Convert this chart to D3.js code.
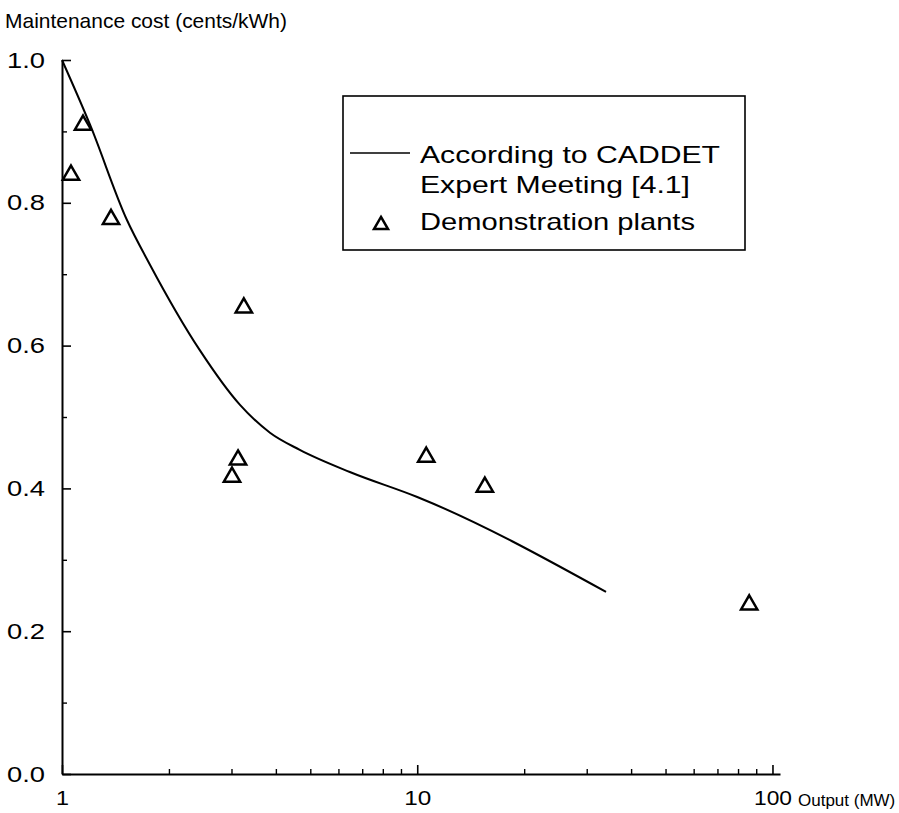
<!DOCTYPE html>
<html>
<head>
<meta charset="utf-8">
<script src="https://cdn.jsdelivr.net/npm/d3@7"></script>
<style>
  html, body { margin: 0; padding: 0; background: #fff; }
  svg { display: block; }
  text { font-family: "Liberation Sans", Arial, Helvetica, sans-serif; fill: #000; }
</style>
</head>
<body>
<svg id="chart" width="899" height="813"></svg>
<script>
// ---- data ----
const curveOutput = [1.0, 1.2, 1.52, 1.77, 2.44, 3.17, 3.85, 4.67, 6.46, 10, 34];
const curveCost   = [1.0, 0.909, 0.777, 0.713, 0.594, 0.517, 0.478, 0.454, 0.423, 0.388, 0.255];
const plantOutput = [1.06, 1.146, 1.374, 3.25, 3.13, 3.01, 10.6, 15.5, 86];
const plantCost   = [0.839, 0.909, 0.777, 0.653, 0.440, 0.416, 0.444, 0.402, 0.237];
const xTickValues = [1, 10, 100];
const xTickLabels = ["1", "10", "100"];
const xMinorTicks = [2,3,4,5,6,7,8,9,20,30,40,50,60,70,80,90];
const yTickValues = [0, 0.2, 0.4, 0.6, 0.8, 1.0];
const yTickLabels = ["0.0", "0.2", "0.4", "0.6", "0.8", "1.0"];
const yMinorTicks = [0.1, 0.3, 0.5, 0.7, 0.9];
const yTitle = "Maintenance cost (cents/kWh)";
const xTitle = "Output (MW)";
const legendLine = ["According to CADDET", "Expert Meeting [4.1]"];
const legendMarker = "Demonstration plants";

// ---- drawing ----
const svg = d3.select("#chart");
const x = d3.scaleLog().domain([1, 105]).range([62, 780]);
const y = d3.scaleLinear().domain([0, 1]).range([774, 60]);

const g = svg.append("g");

// x axis (ticks inside, pointing up)
const xAxis = d3.axisBottom(x).tickValues(xTickValues).tickFormat((d, i) => xTickLabels[i])
  .tickSizeInner(-9).tickSizeOuter(0).tickPadding(16);
const gx = g.append("g").attr("transform", `translate(0,${y(0)})`).call(xAxis);
gx.select(".domain").attr("stroke", "#000").attr("stroke-width", 2);
gx.selectAll(".tick line").attr("stroke", "#000").attr("stroke-width", 1.6);
gx.selectAll(".tick text").attr("font-size", 21).attr("font-family", "Liberation Sans, Arial, sans-serif")
  .attr("lengthAdjust", "spacingAndGlyphs").attr("textLength", (d, i) => [13, 27, 38][i]);
const xMinor = d3.axisBottom(x).tickValues(xMinorTicks).tickFormat("").tickSizeInner(-5).tickSizeOuter(0);
const gxm = g.append("g").attr("transform", `translate(0,${y(0)})`).call(xMinor);
gxm.select(".domain").remove();
gxm.selectAll(".tick line").attr("stroke", "#000").attr("stroke-width", 1.4);

// y axis (ticks inside, pointing right)
const yAxis = d3.axisLeft(y).tickValues(yTickValues).tickFormat((d, i) => yTickLabels[i])
  .tickSizeInner(-9).tickSizeOuter(0).tickPadding(17);
const gy = g.append("g").attr("transform", `translate(${x(1)},0)`).call(yAxis);
gy.select(".domain").attr("stroke", "#000").attr("stroke-width", 2);
gy.selectAll(".tick line").attr("stroke", "#000").attr("stroke-width", 1.6);
gy.selectAll(".tick text").attr("font-size", 22).attr("font-family", "Liberation Sans, Arial, sans-serif")
  .attr("lengthAdjust", "spacingAndGlyphs").attr("textLength", 38);
const yMinor = d3.axisLeft(y).tickValues(yMinorTicks).tickFormat("").tickSizeInner(-5).tickSizeOuter(0);
const gym = g.append("g").attr("transform", `translate(${x(1)},0)`).call(yMinor);
gym.select(".domain").remove();
gym.selectAll(".tick line").attr("stroke", "#000").attr("stroke-width", 1.4);

// titles
g.append("text").attr("x", 5).attr("y", 28).attr("font-size", 21)
  .attr("textLength", 282).attr("lengthAdjust", "spacingAndGlyphs").text(yTitle);
g.append("text").attr("x", 798).attr("y", 806).attr("font-size", 17).text(xTitle);

// curve
const curveData = curveOutput.map((d, i) => [d, curveCost[i]]);
const line = d3.line().x(d => x(d[0])).y(d => y(d[1])).curve(d3.curveMonotoneX);
g.append("path").datum(curveData).attr("d", line)
  .attr("fill", "none").attr("stroke", "#000").attr("stroke-width", 2);

// plants
const tri = d3.symbol().type(d3.symbolTriangle).size(115);
g.selectAll(".plant").data(plantOutput.map((d, i) => [d, plantCost[i]])).enter()
  .append("path").attr("class", "plant")
  .attr("transform", d => `translate(${x(d[0])},${y(d[1])})`)
  .attr("d", tri).attr("fill", "none").attr("stroke", "#000").attr("stroke-width", 2.5);

// legend
const lg = g.append("g");
lg.append("rect").attr("x", 343).attr("y", 96).attr("width", 402).attr("height", 154)
  .attr("fill", "none").attr("stroke", "#000").attr("stroke-width", 1.6);
lg.append("line").attr("x1", 350).attr("x2", 410).attr("y1", 153).attr("y2", 153)
  .attr("stroke", "#000").attr("stroke-width", 1.6);
lg.append("text").attr("x", 420).attr("y", 163).attr("font-size", 24)
  .attr("textLength", 300).attr("lengthAdjust", "spacingAndGlyphs").text(legendLine[0]);
lg.append("text").attr("x", 420).attr("y", 193).attr("font-size", 24)
  .attr("textLength", 270).attr("lengthAdjust", "spacingAndGlyphs").text(legendLine[1]);
lg.append("path").attr("transform", "translate(381,225)").attr("d", d3.symbol().type(d3.symbolTriangle).size(85))
  .attr("fill", "none").attr("stroke", "#000").attr("stroke-width", 2.5);
lg.append("text").attr("x", 420).attr("y", 230).attr("font-size", 24)
  .attr("textLength", 275).attr("lengthAdjust", "spacingAndGlyphs").text(legendMarker);
</script>
</body>
</html>
